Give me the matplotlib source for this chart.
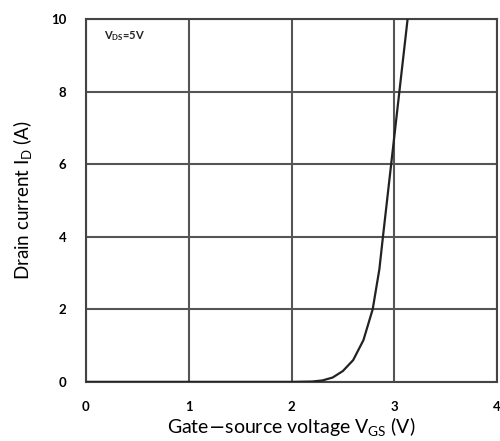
import matplotlib.pyplot as plt

# transfer characteristic
vgs = [0.0, 2.0, 2.2, 2.3, 2.4, 2.5, 2.6, 2.7, 2.79, 2.855, 2.89, 2.97, 3.05, 3.13]
i_d = [0.0, 0.0, 0.01, 0.04, 0.12, 0.3, 0.6, 1.15, 2.0, 3.1, 4.0, 6.0, 8.0, 10.0]
x_ticks = [0, 1, 2, 3, 4]
y_ticks = [0, 2, 4, 6, 8, 10]

plt.rcParams['font.family'] = ['Lato', 'DejaVu Sans']

fig = plt.figure(figsize=(5, 4.41), dpi=100)
ax = fig.add_axes([0.172, 0.134, 0.822, 0.823])

ax.plot(vgs, i_d, color='#222222', lw=1.6, zorder=3)

ax.set_xlim(0, 4)
ax.set_ylim(0, 10)
ax.set_xticks(x_ticks)
ax.set_yticks(y_ticks)
ax.grid(True, color='#555555', lw=1.5)
ax.tick_params(length=0, labelsize=9.5, pad=14)
for lbl in ax.get_xticklabels() + ax.get_yticklabels():
    lbl.set_fontweight('bold')
for s in ax.spines.values():
    s.set_color('#444444')
    s.set_linewidth(1.5)

ax.text(0.18, 9.45, r'V$_{\mathregular{DS}}$=5V', fontsize=8, fontweight='bold', color='#222222')
ax.set_xlabel(r'Gate$-$source voltage V$_{\mathregular{GS}}$ (V)', fontsize=14, labelpad=2)
ax.set_ylabel(r'Drain current I$_{\mathregular{D}}$ (A)', fontsize=13.5, labelpad=12)

fig.savefig('out.png', dpi=100)
